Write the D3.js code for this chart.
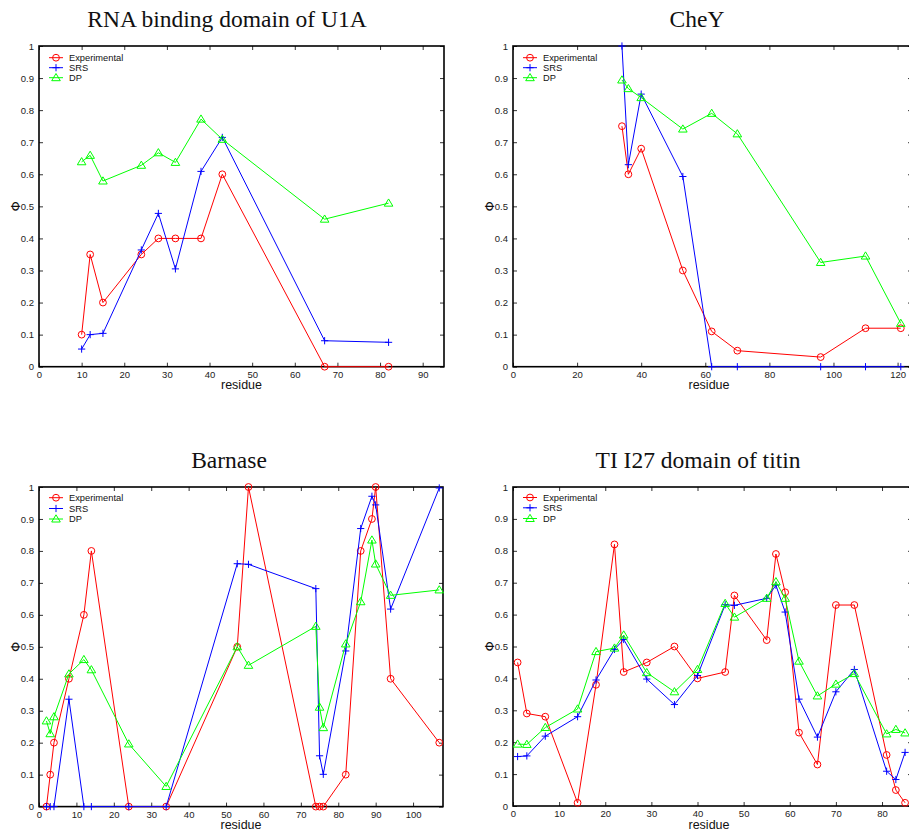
<!DOCTYPE html>
<html>
<head>
<meta charset="utf-8">
<script src="https://cdn.jsdelivr.net/npm/d3@7"></script>
<style>
  html, body { margin: 0; padding: 0; background: #fff; }
  svg { display: block; }
  .tick text { font-family: "Liberation Sans", Arial, sans-serif; font-size: 9.5px; fill: #222; }
</style>
</head>
<body>
<svg id="chart" width="909" height="832"></svg>
<script>
// Phi-value comparisons: experiment vs. SRS and DP predictions, four proteins
const seriesNames = ["Experimental", "SRS", "DP"];
const seriesColors = ["#ff0000", "#0000ff", "#00ff00"];
const yTicks = [0, 0.1, 0.2, 0.3, 0.4, 0.5, 0.6, 0.7, 0.8, 0.9, 1];

// RNA binding domain of U1A
const u1aResidues = [10, 12, 15, 24, 28, 32, 38, 43, 67, 82];
const u1aExperimental = [0.1, 0.35, 0.2, 0.35, 0.4, 0.4, 0.4, 0.6, 0, 0];
const u1aSRS = [0.055, 0.1, 0.104, 0.364, 0.478, 0.305, 0.609, 0.715, 0.081, 0.076];
const u1aDP = [0.639, 0.659, 0.579, 0.628, 0.667, 0.637, 0.772, 0.709, 0.46, 0.51];
const u1aXTicks = [0, 10, 20, 30, 40, 50, 60, 70, 80, 90];

// CheY
const cheyResidues = [34, 36, 40, 53, 62, 70, 96, 110, 121];
const cheyExperimental = [0.75, 0.6, 0.68, 0.3, 0.11, 0.05, 0.03, 0.12, 0.12];
const cheySRS = [1.0, 0.63, 0.85, 0.593, 0, 0, 0, 0, 0];
const cheyDP = [0.894, 0.867, 0.839, 0.741, 0.79, 0.726, 0.325, 0.345, 0.135];
const cheyXTicks = [0, 20, 40, 60, 80, 100, 120];

// Barnase
const barnaseResidues = [2, 3, 4, 8, 12, 14, 24, 34, 53, 56, 74, 75, 76, 82, 86, 89, 90, 94, 107];
const barnaseExperimental = [0, 0.1, 0.2, 0.4, 0.6, 0.8, 0, 0, 0.5, 1.0, 0, 0, 0, 0.1, 0.8, 0.9, 1.0, 0.4, 0.2];
const barnaseSRS = [0, 0, 0, 0.336, 0, 0, 0, 0, 0.76, 0.758, 0.682, 0.159, 0.101, 0.487, 0.87, 0.971, 0.944, 0.618, 0.997];
const barnaseDP = [0.268, 0.228, 0.281, 0.415, 0.46, 0.428, 0.196, 0.063, 0.5, 0.442, 0.564, 0.311, 0.247, 0.509, 0.641, 0.834, 0.759, 0.661, 0.678];
const barnaseXTicks = [0, 10, 20, 30, 40, 50, 60, 70, 80, 90, 100];

// TI I27 domain of titin
const titinResidues = [1, 3, 7, 14, 18, 22, 24, 29, 35, 40, 46, 48, 55, 57, 59, 62, 66, 70, 74, 81, 83, 85];
const titinExperimental = [0.45, 0.29, 0.28, 0.01, 0.38, 0.82, 0.42, 0.45, 0.5, 0.4, 0.42, 0.66, 0.52, 0.79, 0.67, 0.23, 0.13, 0.63, 0.63, 0.16, 0.05, 0.01];
const titinSRS = [0.155, 0.157, 0.219, 0.28, 0.395, 0.491, 0.522, 0.398, 0.318, 0.409, 0.631, 0.629, 0.651, 0.692, 0.608, 0.335, 0.216, 0.358, 0.428, 0.109, 0.083, 0.168];
const titinDP = [0.194, 0.193, 0.246, 0.304, 0.484, 0.495, 0.536, 0.418, 0.358, 0.428, 0.635, 0.592, 0.651, 0.703, 0.651, 0.454, 0.345, 0.382, 0.415, 0.226, 0.24, 0.229];
const titinXTicks = [0, 10, 20, 30, 40, 50, 60, 70, 80];

const panels = [
  { title: "RNA binding domain of U1A", titleX: 227, left: 39, right: 444, top: 46, bottom: 366.7, xMax: 95,
    residues: u1aResidues, series: [u1aExperimental, u1aSRS, u1aDP], xTicks: u1aXTicks, legendDy: [11.7, 21.7, 31.7] },
  { title: "CheY", titleX: 697, left: 513, right: 912, top: 46, bottom: 366.7, xMax: 124.5,
    residues: cheyResidues, series: [cheyExperimental, cheySRS, cheyDP], xTicks: cheyXTicks, legendDy: [11.7, 21.7, 31.7] },
  { title: "Barnase", titleX: 229, left: 39, right: 443, top: 487, bottom: 806.6, xMax: 108,
    residues: barnaseResidues, series: [barnaseExperimental, barnaseSRS, barnaseDP], xTicks: barnaseXTicks, legendDy: [10.7, 21.5, 32] },
  { title: "TI I27 domain of titin", titleX: 698, left: 513, right: 912, top: 487, bottom: 806, xMax: 86.5,
    residues: titinResidues, series: [titinExperimental, titinSRS, titinDP], xTicks: titinXTicks, legendDy: [10.5, 20.8, 31.5] }
];

const svg = d3.select("#chart");

function drawMarker(g, kind, cx, cy, color) {
  if (kind === 0) {
    g.append("circle").attr("cx", cx).attr("cy", cy).attr("r", 3.4)
      .attr("fill", "none").attr("stroke", color).attr("stroke-width", 1);
  } else if (kind === 1) {
    g.append("path").attr("d", `M${cx - 3.6},${cy}H${cx + 3.6}M${cx},${cy - 3.6}V${cy + 3.6}`)
      .attr("stroke", color).attr("stroke-width", 1).attr("fill", "none");
  } else {
    g.append("path").attr("d", `M${cx},${cy - 4.2}L${cx + 4.3},${cy + 3}L${cx - 4.3},${cy + 3}Z`)
      .attr("stroke", color).attr("stroke-width", 1).attr("fill", "none");
  }
}

panels.forEach(p => {
  const x = d3.scaleLinear().domain([0, p.xMax]).range([p.left, p.right]);
  const y = d3.scaleLinear().domain([0, 1]).range([p.bottom, p.top]);
  const g = svg.append("g");

  // title
  g.append("text").attr("x", p.titleX).attr("y", p.top - 19)
    .attr("text-anchor", "middle")
    .attr("font-family", "'Liberation Serif', 'Times New Roman', serif")
    .attr("font-size", 23.5).attr("fill", "#111").text(p.title);

  // axes with inward ticks on all four sides
  const fmt = d => d3.format("~g")(d);
  g.append("g").attr("transform", `translate(0,${p.bottom})`)
    .call(d3.axisBottom(x).tickValues(p.xTicks).tickFormat(fmt).tickSizeInner(-4).tickSizeOuter(0).tickPadding(4.5))
    .call(a => a.select(".domain").remove());
  g.append("g").attr("transform", `translate(0,${p.top})`)
    .call(d3.axisTop(x).tickValues(p.xTicks).tickFormat("").tickSizeInner(-4).tickSizeOuter(0))
    .call(a => a.select(".domain").remove());
  g.append("g").attr("transform", `translate(${p.left},0)`)
    .call(d3.axisLeft(y).tickValues(yTicks).tickFormat(fmt).tickSizeInner(-4).tickSizeOuter(0).tickPadding(5))
    .call(a => a.select(".domain").remove());
  g.append("g").attr("transform", `translate(${p.right},0)`)
    .call(d3.axisRight(y).tickValues(yTicks).tickFormat("").tickSizeInner(-4).tickSizeOuter(0))
    .call(a => a.select(".domain").remove());
  g.selectAll(".tick line").attr("stroke", "#333");

  // frame
  g.append("rect").attr("x", p.left).attr("y", p.top)
    .attr("width", p.right - p.left).attr("height", p.bottom - p.top)
    .attr("fill", "none").attr("stroke", "#000").attr("stroke-width", 1.6);

  // axis labels
  g.append("text").attr("x", (p.left + Math.min(p.right, 909)) / 2 + (p.right > 909 ? -2 : 0))
    .attr("y", p.bottom + 22.5)
    .attr("text-anchor", "middle")
    .attr("font-family", "'Liberation Sans', Arial, sans-serif")
    .attr("font-size", 12.5).attr("fill", "#111").text("residue");
  g.append("text")
    .attr("transform", `translate(${p.left - 19},${(p.top + p.bottom) / 2}) rotate(-90)`)
    .attr("text-anchor", "middle")
    .attr("font-family", "'DejaVu Sans', sans-serif")
    .attr("font-size", 13).attr("fill", "#111").text("Φ");

  // series
  const clipId = "clip" + p.left + "_" + p.top;
  svg.append("clipPath").attr("id", clipId).append("rect")
    .attr("x", p.left - 6).attr("y", p.top - 6).attr("width", p.right - p.left + 12).attr("height", p.bottom - p.top + 12);
  const plot = g.append("g").attr("clip-path", `url(#${clipId})`);
  const line = d3.line().x(d => x(d[0])).y(d => y(d[1]));
  p.series.forEach((vals, si) => {
    const pts = p.residues.map((r, i) => [r, vals[i]]);
    plot.append("path").attr("d", line(pts)).attr("fill", "none")
      .attr("stroke", seriesColors[si]).attr("stroke-width", 1);
    pts.forEach(pt => drawMarker(plot, si, x(pt[0]), y(pt[1]), seriesColors[si]));
  });

  // legend
  seriesNames.forEach((name, si) => {
    const ly = p.top + p.legendDy[si];
    const lx = p.left + 10;
    g.append("line").attr("x1", lx).attr("x2", lx + 14).attr("y1", ly).attr("y2", ly)
      .attr("stroke", seriesColors[si]).attr("stroke-width", 1);
    drawMarker(g, si, lx + 7, ly, seriesColors[si]);
    g.append("text").attr("x", lx + 20).attr("y", ly + 3.3)
      .attr("font-family", "'Liberation Sans', Arial, sans-serif")
      .attr("font-size", 9.3).attr("fill", "#111").text(name);
  });
});
</script>
</body>
</html>
